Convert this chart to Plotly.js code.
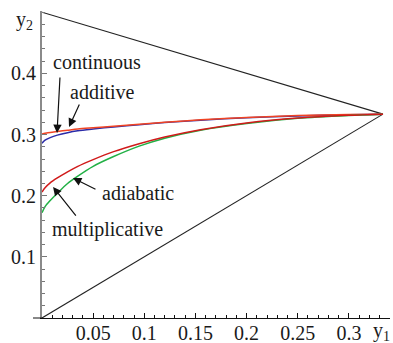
<!DOCTYPE html>
<html>
<head>
<meta charset="utf-8">
<script src="https://cdn.plot.ly/plotly-3.0.1.min.js"></script>
<style>html,body{margin:0;padding:0;background:#fff;}#chart{width:393px;height:343px;}</style>
</head>
<body>
<div id="chart"></div>
<script>
// y1 values (x axis)
const y1Vals = [0, 0.003, 0.008, 0.015, 0.025, 0.035, 0.05, 0.07, 0.095, 0.12, 0.155, 0.2, 0.25, 0.3, 1/3];
// y2 values of each curve
const continuousY     = [0.301, 0.302, 0.3035, 0.305, 0.307, 0.309, 0.311, 0.3135, 0.317, 0.320, 0.324, 0.328, 0.331, 0.3328, 1/3];
const additiveY       = [0.2857, 0.291, 0.295, 0.299, 0.303, 0.306, 0.309, 0.3125, 0.316, 0.3195, 0.3235, 0.3275, 0.3305, 0.3325, 1/3];
const multiplicativeY = [0.206, 0.213, 0.221, 0.229, 0.239, 0.248, 0.259, 0.272, 0.285, 0.296, 0.308, 0.319, 0.327, 0.3315, 1/3];
const adiabaticY      = [0.172, 0.182, 0.192, 0.204, 0.220, 0.232, 0.248, 0.264, 0.281, 0.294, 0.307, 0.318, 0.3265, 0.3312, 1/3];
// triangle boundary lines
const upperEdgeX = [0, 1/3], upperEdgeY = [0.5, 1/3];
const lowerEdgeX = [0, 1/3], lowerEdgeY = [0, 1/3];
// ticks
const xTickVals = [0.05, 0.1, 0.15, 0.2, 0.25, 0.3];
const xTickText = ['0.05', '0.1', '0.15', '0.2', '0.25', '0.3'];
const yTickVals = [0.1, 0.2, 0.3, 0.4];
const yTickText = ['0.1', '0.2', '0.3', '0.4'];

const FONT = 'Liberation Serif';
const TXT = '#1a1a1a';

function line(x, y, color, w) {
  return {x: x, y: y, type: 'scatter', mode: 'lines', line: {color: color, width: w, shape: 'spline', smoothing: 0.8}, hoverinfo: 'skip', showlegend: false};
}

const traces = [
  line(upperEdgeX, upperEdgeY, '#222222', 1.1),
  line(lowerEdgeX, lowerEdgeY, '#222222', 1.1),
  line(y1Vals, additiveY, '#2b2ba8', 1.5),
  line(y1Vals, continuousY, '#f04424', 1.5),
  line(y1Vals, adiabaticY, '#22b045', 1.5),
  line(y1Vals, multiplicativeY, '#d01a1a', 1.5)
];

function arrow(x, y, ax, ay) {
  return {x: x, y: y, ax: ax, ay: ay, text: '', showarrow: true, arrowhead: 2, arrowsize: 1.4, arrowwidth: 1.2, arrowcolor: '#111', standoff: 0, startstandoff: 0};
}
function label(x, y, text) {
  return {x: x, y: y, text: text, showarrow: false, xanchor: 'center', yanchor: 'middle', font: {family: FONT, size: 20, color: TXT}};
}

const layout = {
  width: 393, height: 343,
  margin: {l: 42, r: 3, t: 11, b: 25},
  paper_bgcolor: '#fff', plot_bgcolor: '#fff',
  font: {family: FONT, size: 20, color: TXT},
  showlegend: false,
  xaxis: {
    range: [0, 0.3402], showgrid: false, zeroline: false,
    showline: true, linecolor: '#111', linewidth: 1,
    tickmode: 'array', tickvals: xTickVals, ticktext: xTickText,
    ticks: 'inside', ticklen: 5, tickwidth: 1, tickcolor: '#111',
    ticklabelstandoff: -3,
    minor: {tick0: 0, dtick: 0.01, ticks: 'inside', ticklen: 3, tickwidth: 1, tickcolor: '#111', showgrid: false},
    tickfont: {family: FONT, size: 20, color: TXT}
  },
  yaxis: {
    range: [0, 0.502], showgrid: false, zeroline: false,
    showline: true, linecolor: '#8a8a8a', linewidth: 2,
    tickmode: 'array', tickvals: yTickVals, ticktext: yTickText,
    ticks: 'inside', ticklen: 5, tickwidth: 1, tickcolor: '#777',
    minor: {tick0: 0, dtick: 0.02, ticks: 'inside', ticklen: 3, tickwidth: 1, tickcolor: '#777', showgrid: false},
    tickfont: {family: FONT, size: 20, color: TXT}
  },
  shapes: [
    {type: 'line', xref: 'paper', yref: 'paper', x0: -9/348, x1: 0, y0: 0, y1: 0, line: {color: '#111', width: 1}}
  ],
  annotations: [
    arrow(0.0147, 0.3025, 3, -57),
    arrow(0.0264, 0.3123, 11, -24),
    arrow(0.0303, 0.2289, 24, 12),
    arrow(0.0108, 0.2142, 24, 30),
    label(0.0538, 0.4186, 'continuous'),
    label(0.0596, 0.3695, 'additive'),
    label(0.0938, 0.2044, 'adiabatic'),
    label(0.0645, 0.1455, 'multiplicative'),
    {xref: 'paper', yref: 'paper', x: -18/348, y: 0.97, xanchor: 'center', yanchor: 'middle', text: 'y<sub>2</sub>', showarrow: false, font: {family: FONT, size: 20, color: TXT}},
    {xref: 'paper', yref: 'paper', x: 339/348, y: -13/307, xanchor: 'center', yanchor: 'middle', text: 'y<sub>1</sub>', showarrow: false, font: {family: FONT, size: 20, color: TXT}}
  ]
};

Plotly.newPlot('chart', traces, layout, {staticPlot: true, displayModeBar: false});
</script>
</body>
</html>
